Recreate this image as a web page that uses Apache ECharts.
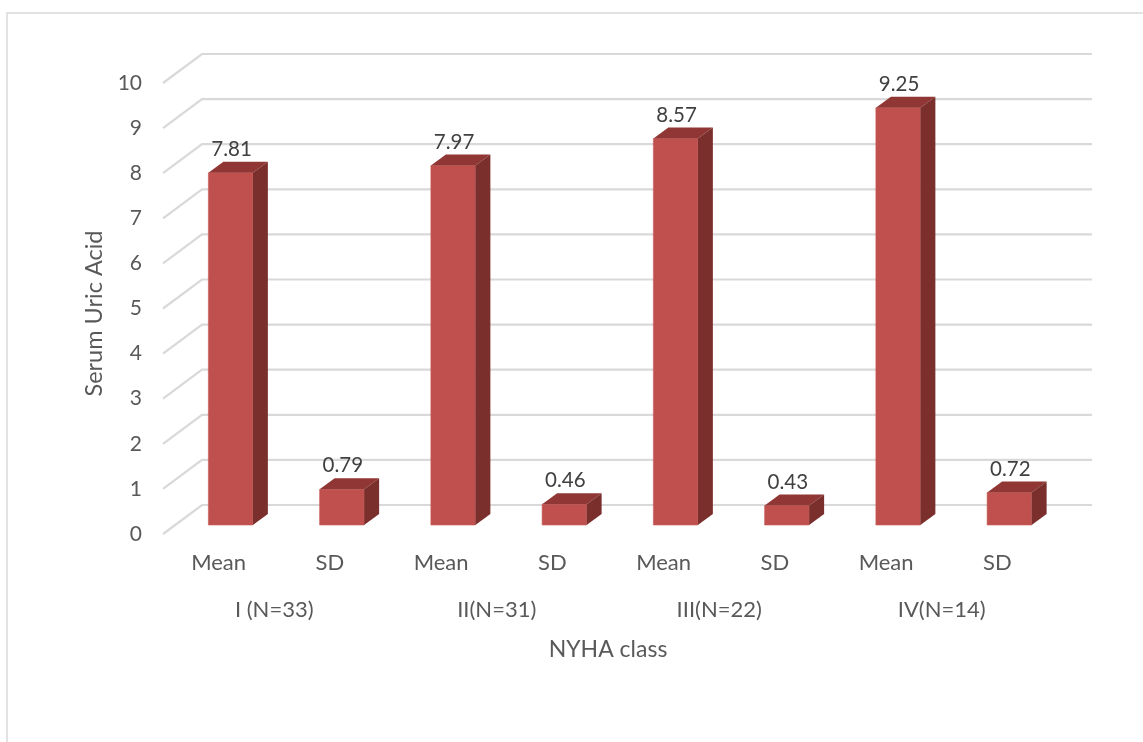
<!DOCTYPE html>
<html>
<head>
<meta charset="utf-8">
<title>Serum Uric Acid by NYHA class</title>
<script src="https://cdn.jsdelivr.net/npm/echarts@6/dist/echarts.min.js"></script>
<style>
  html, body { margin: 0; padding: 0; background: #ffffff; }
  #chart { width: 1143px; height: 742px; }
</style>
</head>
<body>
<div id="chart"></div>
<script>
// Data
var statLabels = ['Mean', 'SD', 'Mean', 'SD', 'Mean', 'SD', 'Mean', 'SD'];
var groupLabels = ['I (N=33)', 'II(N=31)', 'III(N=22)', 'IV(N=14)'];
var meanValues = [7.81, 7.97, 8.57, 9.25];
var sdValues = [0.79, 0.46, 0.43, 0.72];
var yTicks = [0, 1, 2, 3, 4, 5, 6, 7, 8, 9, 10];

// Mean and SD interleaved per NYHA class, in axis order
var barValues = [];
for (var g = 0; g < groupLabels.length; g++) {
  barValues.push(meanValues[g], sdValues[g]);
}

var FONT = 'Lato';
var AXIS_TEXT = '#595959';

// Perspective: the back wall sits up and to the right of the front plane
var WALL_DX = 39, WALL_DY = -29;
// Bars stand partway into the depth
var BAR_DX = 12, BAR_DY = -9;
var BAR_DEPTH_X = 15, BAR_DEPTH_Y = -11;

var chart = echarts.init(document.getElementById('chart'));

function renderGridLine(params, api) {
  var cs = params.coordSys;
  var y = api.coord([0, api.value(0)])[1];
  return {
    type: 'polyline',
    shape: {
      points: [
        [cs.x, y],
        [cs.x + WALL_DX, y + WALL_DY],
        [cs.x + cs.width + WALL_DX, y + WALL_DY]
      ]
    },
    style: { stroke: '#d9d9d9', lineWidth: 2.2, fill: null },
    silent: true
  };
}

function renderBar(params, api) {
  var idx = api.value(0);
  var val = api.value(1);
  var top = api.coord([idx, val]);
  var base = api.coord([idx, 0]);
  var bw = api.size([1, 0])[0] * 0.4;
  var x0 = top[0] - bw / 2 + BAR_DX;
  var x1 = x0 + bw;
  var yTop = top[1] + BAR_DY;
  var yBase = base[1] + BAR_DY;
  var dx = BAR_DEPTH_X, dy = BAR_DEPTH_Y;
  return {
    type: 'group',
    children: [
      {
        type: 'rect',
        shape: { x: x0, y: yTop, width: bw, height: yBase - yTop },
        style: { fill: '#c0504d', stroke: '#c85a57', lineWidth: 0.6 }
      },
      {
        type: 'polygon',
        shape: { points: [[x0, yTop], [x0 + dx, yTop + dy], [x1 + dx, yTop + dy], [x1, yTop]] },
        style: { fill: '#903634' }
      },
      {
        type: 'polygon',
        shape: { points: [[x1, yTop], [x1 + dx, yTop + dy], [x1 + dx, yBase + dy], [x1, yBase]] },
        style: { fill: '#7b2f2d' }
      },
      {
        type: 'text',
        style: {
          x: (x0 + x1) / 2 + 1,
          y: yTop + dy - 2,
          text: String(val.toFixed(2)),
          fontFamily: FONT,
          fontSize: 20.5,
          fill: '#404040',
          align: 'center',
          verticalAlign: 'bottom'
        }
      }
    ]
  };
}

var option = {
  backgroundColor: '#ffffff',
  animation: false,
  graphic: [
    {
      type: 'rect',
      shape: { x: 7, y: 13, width: 1200, height: 800 },
      style: { fill: null, stroke: '#d9d9d9', lineWidth: 1.5 },
      silent: true
    }
  ],
  grid: { left: 163, top: 83, width: 890, height: 451 },
  xAxis: [
    {
      type: 'category',
      data: statLabels,
      axisLine: { show: false },
      axisTick: { show: false },
      axisLabel: { margin: 18, color: AXIS_TEXT, fontFamily: FONT, fontSize: 22 }
    },
    {
      type: 'category',
      data: groupLabels,
      position: 'bottom',
      offset: 48,
      axisLine: { show: false },
      axisTick: { show: false },
      axisLabel: { margin: 17, color: AXIS_TEXT, fontFamily: FONT, fontSize: 22 },
      name: 'NYHA class',
      nameLocation: 'middle',
      nameGap: 56,
      nameTextStyle: { color: AXIS_TEXT, fontFamily: FONT, fontSize: 23 }
    }
  ],
  yAxis: {
    type: 'value',
    min: 0,
    max: 10,
    interval: 1,
    axisLine: { show: false },
    axisTick: { show: false },
    splitLine: { show: false },
    axisLabel: { margin: 21, color: AXIS_TEXT, fontFamily: FONT, fontSize: 21 },
    name: 'Serum Uric Acid',
    nameLocation: 'middle',
    nameRotate: 90,
    nameGap: 52,
    nameTextStyle: { color: AXIS_TEXT, fontFamily: FONT, fontSize: 23.5, padding: [0, 10, 0, 0] }
  },
  series: [
    {
      type: 'custom',
      name: 'grid',
      xAxisIndex: 0,
      yAxisIndex: 0,
      renderItem: renderGridLine,
      data: yTicks.map(function (t) { return [t]; }),
      encode: { y: 0 },
      silent: true,
      z: 1
    },
    {
      type: 'custom',
      name: 'Serum Uric Acid',
      xAxisIndex: 0,
      yAxisIndex: 0,
      renderItem: renderBar,
      data: barValues.map(function (v, i) { return [i, v]; }),
      encode: { x: 0, y: 1 },
      z: 2
    }
  ]
};

chart.setOption(option);
</script>
</body>
</html>
